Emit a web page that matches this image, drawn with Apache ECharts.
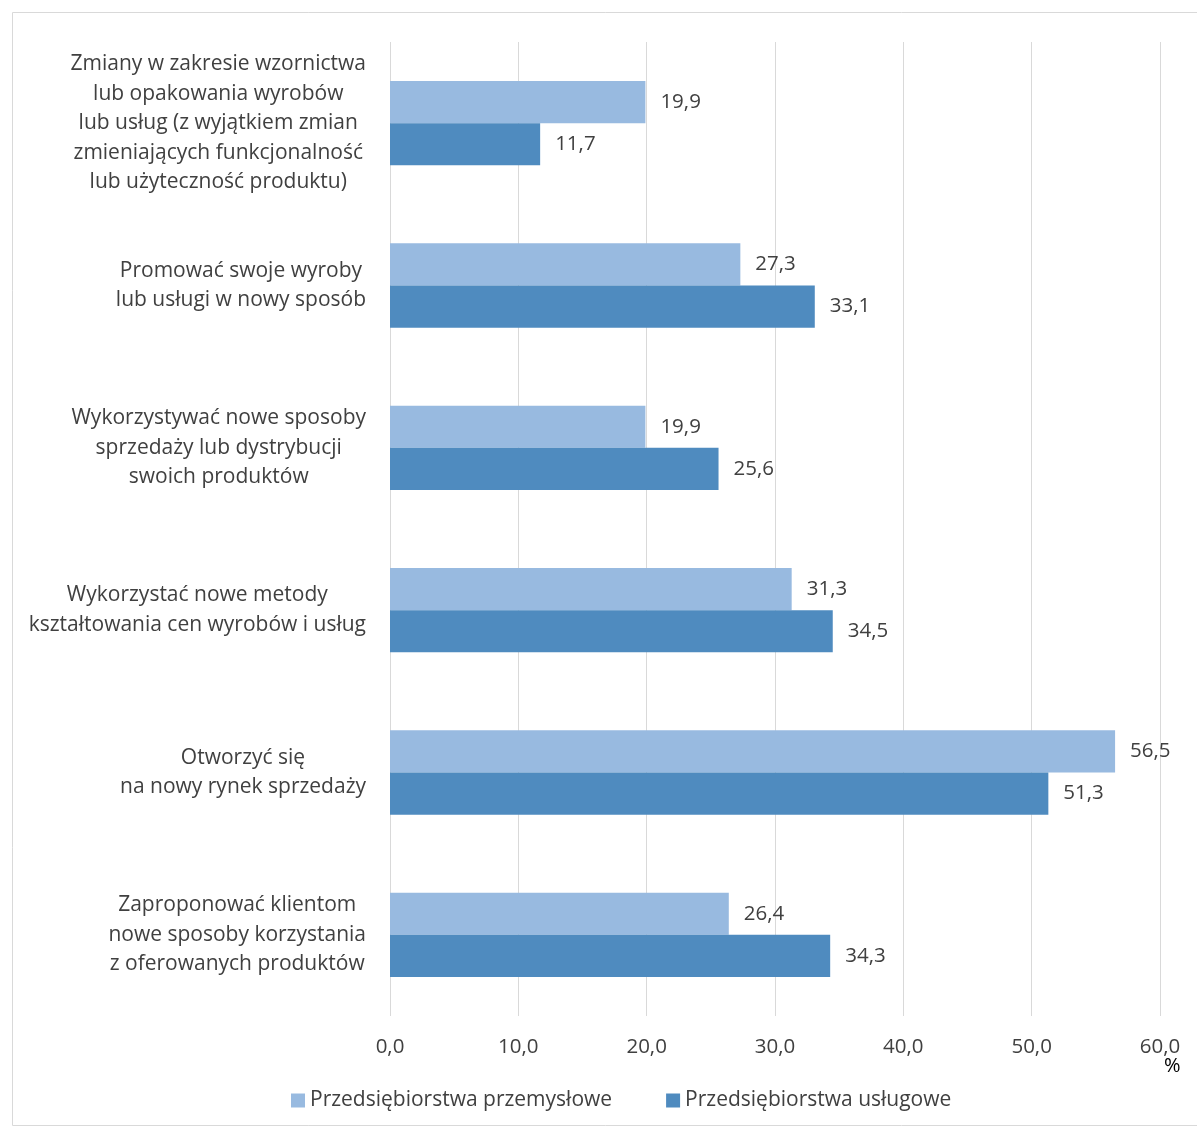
<!DOCTYPE html>
<html><head><meta charset="utf-8">
<script src="https://cdn.jsdelivr.net/npm/echarts@6/dist/echarts.min.js"></script>
<style>html,body{margin:0;padding:0;background:#fff}#c{width:1197px;height:1129px}</style>
</head><body><div id="c"></div>
<script>
const categories = [
  "Zmiany w zakresie wzornictwa\nlub opakowania wyrobów\nlub usług (z wyjątkiem zmian\nzmieniających funkcjonalność\nlub użyteczność produktu)",
  "Promować swoje wyroby\nlub usługi w nowy sposób",
  "Wykorzystywać nowe sposoby\nsprzedaży lub dystrybucji\nswoich produktów",
  "Wykorzystać nowe metody\nkształtowania cen wyrobów i usług",
  "Otworzyć się\nna nowy rynek sprzedaży",
  "Zaproponować klientom\nnowe sposoby korzystania\nz oferowanych produktów"
];
const przemyslowe = [19.9, 27.3, 19.9, 31.3, 56.5, 26.4];
const uslugowe = [11.7, 33.1, 25.6, 34.5, 51.3, 34.3];
const seriesNames = ["Przedsiębiorstwa przemysłowe", "Przedsiębiorstwa usługowe"];

const font = "'Open Sans', 'Noto Sans', sans-serif";
const chart = echarts.init(document.getElementById('c'));
const lbl = {show:true, position:'right', distance:15, color:'#404040', fontSize:20.5, fontFamily:font,
  formatter: p => p.value.toFixed(1).replace('.', ',')};
chart.setOption({
  animation:false,
  graphic:[
    {type:'rect', shape:{x:12.5,y:12.5,width:1200,height:1113}, style:{fill:'none', stroke:'#d9d9d9', lineWidth:1}},
    {type:'text', left:1164, top:1056, style:{text:'%', fontSize:20, fill:'#000', fontFamily:font}}
  ],
  grid:{left:390, right:37, top:42, bottom:113},
  legend:{bottom:13, left:286, itemWidth:14, itemHeight:14, itemGap:54, icon:'rect',
    textStyle:{color:'#404040', fontSize:21, fontFamily:font}, data:seriesNames},
  xAxis:{type:'value', min:0, max:60, interval:10,
    axisLabel:{formatter:v=>v.toFixed(1).replace('.', ','), color:'#404040', fontSize:20.5, fontFamily:font, margin:21},
    splitLine:{lineStyle:{color:'#d9d9d9'}}, axisLine:{show:false}, axisTick:{show:false}},
  yAxis:{type:'category', inverse:true, data:categories,
    axisLine:{show:false}, axisTick:{show:false},
    axisLabel:{align:'right', margin:24,
      formatter: v => v.split('\n').map(l => '{c|' + l + '}').join('\n'),
      rich:{c:{align:'center', color:'#404040', fontSize:21, fontFamily:font, lineHeight:29.5}}}},
  series:[
    {name:seriesNames[0], type:'bar', data:przemyslowe, barGap:'0%', barCategoryGap:'48%',
     itemStyle:{color:'#98BAE0'}, label:lbl},
    {name:seriesNames[1], type:'bar', data:uslugowe, barGap:'0%', barCategoryGap:'48%',
     itemStyle:{color:'#4F8BBF'}, label:lbl}
  ]
});
</script></body></html>
